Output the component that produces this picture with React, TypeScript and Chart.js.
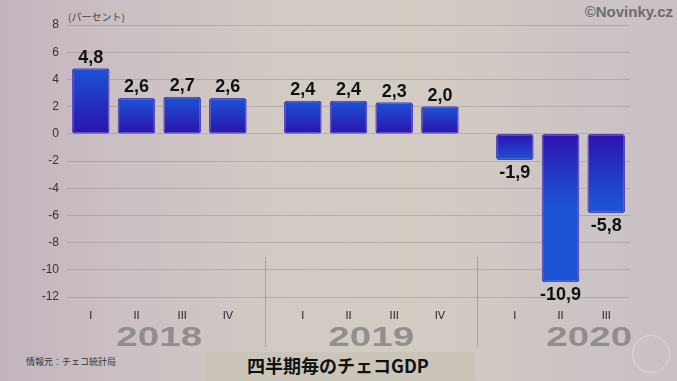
import React, { useEffect, useRef } from 'react';
import { Chart, registerables } from 'chart.js';

Chart.register(...registerables);

// ---- data ----
const years = ['2018', '2019', '2020'];
const quarters2018 = ['I', 'II', 'III', 'IV'];
const quarters2019 = ['I', 'II', 'III', 'IV'];
const quarters2020 = ['I', 'II', 'III'];
const values2018 = [4.8, 2.6, 2.7, 2.6];
const values2019 = [2.4, 2.4, 2.3, 2.0];
const values2020 = [-1.9, -10.9, -5.8];
const yTickValues = [8, 6, 4, 2, 0, -2, -4, -6, -8, -10, -12];

const groupQuarters = [quarters2018, quarters2019, quarters2020];
const groupValues = [values2018, values2019, values2020];

// layout helpers (spacing between year groups, in category units)
const GROUP_GAP = 0.64;
const EDGE = 0.52;

const positions: number[] = [];
const quarterFlat: string[] = [];
const points: { x: number; y: number }[] = [];
const groupStart: number[] = [];
const groupEnd: number[] = [];
{
  let idx = 0;
  groupValues.forEach((vals, g) => {
    groupStart.push(idx + g * GROUP_GAP);
    vals.forEach((v, q) => {
      const x = idx + g * GROUP_GAP;
      positions.push(x);
      quarterFlat.push(groupQuarters[g][q]);
      points.push({ x, y: v });
      idx++;
    });
    groupEnd.push(idx - 1 + g * GROUP_GAP);
  });
}
const yearCenterOffset = [1.5, 1.5, 1.63];

const fmt = (v: number) => v.toFixed(1).replace('.', ',');

const overlayPlugin = {
  id: 'overlay',
  beforeDatasetsDraw(chart: any) {
    const ctx = chart.ctx;
    ctx.save();
    ctx.shadowColor = 'rgba(255,248,215,0.9)';
    ctx.shadowBlur = 3;
  },
  afterDatasetsDraw(chart: any) {
    const ctx = chart.ctx;
    ctx.restore();
    const meta = chart.getDatasetMeta(0);
    const xs = chart.scales.x;
    // value labels
    ctx.save();
    ctx.fillStyle = '#111';
    ctx.font = 'bold 18px "Liberation Sans", Arial, sans-serif';
    ctx.textAlign = 'center';
    meta.data.forEach((el: any, i: number) => {
      const v = points[i].y;
      if (v >= 0) {
        ctx.textBaseline = 'alphabetic';
        ctx.fillText(fmt(v), el.x, el.y - 6);
      } else {
        ctx.textBaseline = 'top';
        ctx.fillText(fmt(v), el.x, el.y + 4);
      }
    });
    ctx.restore();

    // dividers between year groups
    ctx.save();
    ctx.strokeStyle = 'rgba(95,90,90,0.35)';
    ctx.lineWidth = 1;
    for (let g = 0; g < years.length - 1; g++) {
      const mid = (groupEnd[g] + groupStart[g + 1]) / 2;
      const px = Math.round(xs.getPixelForValue(mid)) + 0.5;
      ctx.beginPath();
      ctx.moveTo(px, 257);
      ctx.lineTo(px, 347);
      ctx.stroke();
    }
    ctx.restore();

    // year labels
    ctx.save();
    ctx.fillStyle = 'rgba(135,132,130,0.85)';
    ctx.font = 'bold 28px "Liberation Sans", Arial, sans-serif';
    ctx.textAlign = 'center';
    ctx.textBaseline = 'alphabetic';
    const sx = 1.38;
    years.forEach((yr, g) => {
      const cx = xs.getPixelForValue(groupStart[g] + yearCenterOffset[g]);
      ctx.save();
      ctx.translate(cx, 346);
      ctx.scale(sx, 1);
      ctx.fillText(yr, 0, 0);
      ctx.restore();
    });
    ctx.restore();
  },
};

export default function App() {
  const ref = useRef<HTMLCanvasElement | null>(null);

  useEffect(() => {
    if (!ref.current) return;
    const chart = new Chart(ref.current, {
      type: 'bar',
      data: {
        datasets: [
          {
            data: points,
            barThickness: 37,
            borderWidth: 1.5,
            borderColor: '#2412b0',
            borderRadius: 3,
            borderSkipped: false,
            backgroundColor: (c: any) => {
              const ys = c.chart.scales && c.chart.scales.y;
              if (!ys || c.type !== 'data' || !c.raw) return '#2340cc';
              const v = c.raw.y;
              const p0 = ys.getPixelForValue(0);
              const p1 = ys.getPixelForValue(v);
              if (!isFinite(p0) || !isFinite(p1) || p0 === p1) return '#2340cc';
              const len = Math.min(Math.abs(p1 - p0), 70);
              const end = p0 + Math.sign(p1 - p0) * len;
              const g = c.chart.ctx.createLinearGradient(0, p0, 0, end);
              g.addColorStop(0, '#2c12ae');
              g.addColorStop(1, '#1c52d4');
              return g;
            },
          } as any,
        ],
      },
      options: {
        animation: false,
        responsive: false,
        events: [],
        layout: { padding: { top: 25, right: 47, bottom: 0, left: 0 } },
        plugins: {
          legend: { display: false },
          tooltip: { enabled: false },
          title: { display: false },
        },
        scales: {
          x: {
            type: 'linear',
            offset: false,
            min: positions[0] - EDGE,
            max: positions[positions.length - 1] + EDGE,
            grid: { display: false, drawTicks: false, offset: false },
            border: { display: false },
            afterBuildTicks: (s: any) => {
              s.ticks = positions.map((v) => ({ value: v }));
            },
            afterFit: (s: any) => {
              s.height = 84;
            },
            ticks: {
              autoSkip: false,
              maxRotation: 0,
              padding: 12,
              color: '#222',
              font: { family: '"Liberation Sans", Arial, sans-serif', size: 11 },
              callback: (_v: any, i: number) => quarterFlat[i],
            },
          },
          y: {
            min: yTickValues[yTickValues.length - 1],
            max: yTickValues[0],
            afterBuildTicks: (s: any) => {
              s.ticks = yTickValues.map((v) => ({ value: v }));
            },
            afterFit: (s: any) => {
              s.width = 67;
            },
            grid: { color: 'rgba(110,100,100,0.28)', drawTicks: false, lineWidth: 1 },
            border: { display: false },
            ticks: {
              padding: 8,
              color: '#333',
              font: { family: '"Liberation Sans", Arial, sans-serif', size: 12 },
            },
          },
        },
      },
      plugins: [overlayPlugin],
    } as any);
    return () => chart.destroy();
  }, []);

  const abs = (s: React.CSSProperties): React.CSSProperties => ({ position: 'absolute', whiteSpace: 'nowrap', ...s });

  return (
    <div
      style={{
        position: 'absolute',
        left: 0,
        top: 0,
        width: 677,
        height: 381,
        overflow: 'hidden',
        background:
          'linear-gradient(90deg, #c3b4be 0%, #cbc0c3 18%, #d2cbc3 42%, #d3ccc3 62%, #cec6c4 80%, #c9c0c6 100%)',
      }}
    >
      <div style={abs({ left: 205, top: 352, width: 270, height: 29, background: '#cac5b8' })} />
      <div
        style={abs({
          left: 632,
          top: 335,
          width: 36,
          height: 36,
          borderRadius: '50%',
          border: '1px solid rgba(255,255,255,0.35)',
        })}
      />
      <div
        style={abs({
          left: 68,
          top: 11,
          fontSize: 10,
          lineHeight: '12px',
          color: '#444',
          fontFamily: '"Noto Sans CJK JP", sans-serif',
        })}
      >
        (パーセント)
      </div>
      <div
        style={abs({
          right: 4,
          top: 3,
          fontSize: 15,
          lineHeight: '18px',
          fontWeight: 'bold',
          color: '#6e6c6c',
          fontFamily: '"Liberation Sans", Arial, sans-serif',
        })}
      >
        ©Novinky.cz
      </div>
      <div
        style={abs({
          left: 26,
          top: 356,
          fontSize: 9,
          lineHeight: '12px',
          color: '#333',
          fontFamily: '"Noto Sans CJK JP", sans-serif',
        })}
      >
        情報元：チェコ統計局
      </div>
      <div
        style={abs({
          left: 247,
          top: 354,
          fontSize: 18,
          lineHeight: '22px',
          fontWeight: 'bold',
          color: '#111',
          fontFamily: '"Noto Sans CJK JP", sans-serif',
        })}
      >
        四半期毎のチェコGDP
      </div>
      <canvas ref={ref} width={677} height={381} style={{ position: 'absolute', left: 0, top: 0 }} />
    </div>
  );
}
